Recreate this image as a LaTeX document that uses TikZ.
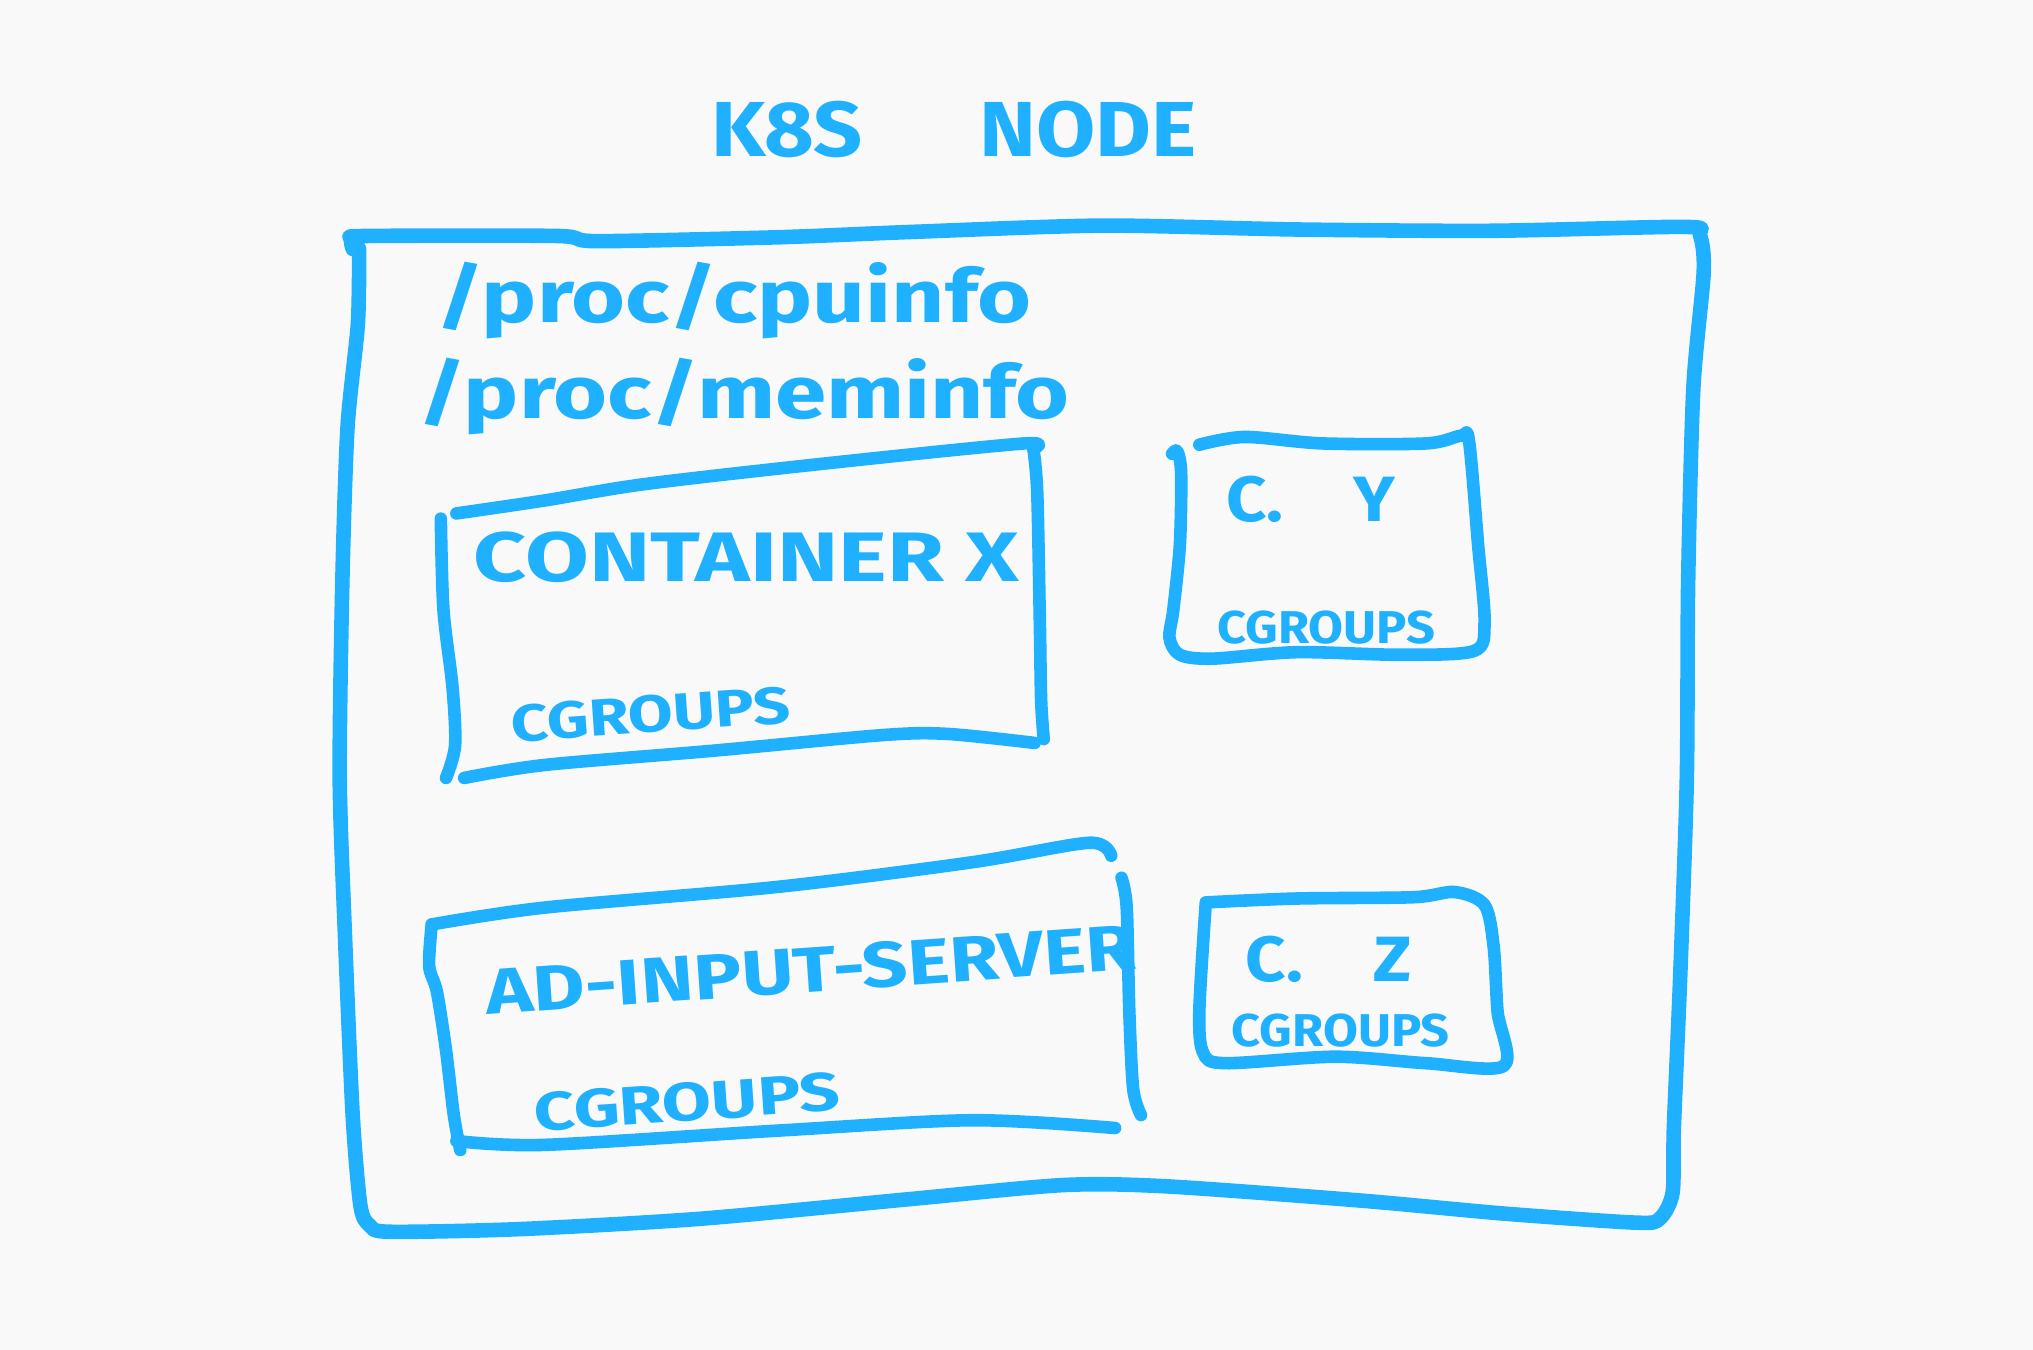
\documentclass[tikz,border=0pt]{standalone}
\usepackage{fontspec}
\setmainfont{Fira Sans}
\newfontfamily\handA{Fira Sans}[FakeStretch=1.1]
\newfontfamily\handB{Fira Sans}[FakeStretch=1.25]
\newfontfamily\handC{Fira Sans}[FakeStretch=1.32]
\definecolor{ink}{HTML}{1FB1FF}
\definecolor{paper}{HTML}{F9F9F9}
\tikzset{
  sketch/.style={draw=ink, line width=6.3pt, line cap=round, line join=round},
  outer/.style={draw=ink, line width=7.3pt, line cap=round, line join=round},
  hand/.style={text=ink, inner sep=0pt},
}
\begin{document}
\begin{tikzpicture}[x=0.6483pt, y=-0.6483pt]
\fill[paper] (0,0) rectangle (1568,1041);
\useasboundingbox (0,0) rectangle (1568,1041);

% title
\node[hand, font=\handA\fontsize{39}{44}\selectfont\bfseries] (title) at (736,100) {K8S\hspace{1.5em}NODE};

% outer box
\draw[outer] plot[smooth, tension=0.45] coordinates {
 (272,192) (271,184) (282,182) (430,182) (460,186) (600,183) (700,179) (850,174) (1000,177) (1150,178) (1300,175) (1311,181)
 (1314,210) (1306,300) (1302,450) (1301,600) (1296,750) (1291,870) (1290,920) (1280,940) (1262,943)
 (1160,936) (1050,926) (900,915) (820,914) (700,925) (540,940) (400,948) (300,950) (285,945) (278,930)
 (272,860) (266,720) (262,600) (264,450) (268,330) (276,250) (277,192)};

% /proc lines
\node[hand, font=\handB\fontsize{37}{40}\selectfont\bfseries] (cpu) at (566,232) {/proc/cpuinfo};
\node[hand, font=\handB\fontsize{37}{40}\selectfont\bfseries] (mem) at (574,306) {/proc/meminfo};

% container X box
\draw[sketch] plot[smooth, tension=0.5] coordinates {(352,396) (420,386) (500,373) (650,356) (790,342) (797,346)};
\draw[sketch] plot[smooth, tension=0.5] coordinates {(797,346) (800,380) (802,480) (803,540) (805,570)};
\draw[sketch] plot[smooth, tension=0.5] coordinates {(340,400) (342,470) (349,530) (351,575) (344,600)};
\draw[sketch] plot[smooth, tension=0.5] coordinates {(358,600) (420,590) (550,579) (680,567) (730,566) (798,573)};
\node[hand, font=\handC\fontsize{35}{38}\selectfont\bfseries] (cx) at (576,430) {CONTAINER X};
\node[hand, font=\handB\fontsize{26}{28}\selectfont\bfseries, rotate=4] (cgx) at (502,551) {CGROUPS};

% C. Y box
\draw[sketch] plot[smooth, tension=0.5] coordinates {(904,350) (908,348) (911,365) (910,420) (905,470) (902,492) (910,505) (935,508)
 (1000,503) (1080,505) (1137,502) (1145,480) (1140,420) (1133,340) (1127,336) (1100,342) (1020,342) (960,337) (925,343)};
\node[hand, font=\handA\fontsize{32}{34}\selectfont\bfseries] (cy) at (1011,385) {C.\hspace{1.1em}Y};
\node[hand, font=\handA\fontsize{23}{26}\selectfont\bfseries] (cgy) at (1023,484) {CGROUPS};

% AD-INPUT-SERVER box
\draw[sketch] plot[smooth, tension=0.5] coordinates {(333,713) (420,700) (600,684) (750,665) (840,650) (857,660)};
\draw[sketch] plot[smooth, tension=0.5] coordinates {(333,713) (331,745) (337,765) (344,810) (350,860) (355,887)};
\draw[sketch] plot[smooth, tension=0.5] coordinates {(865,677) (869,700) (871,780) (874,840) (880,860)};
\draw[sketch] plot[smooth, tension=0.5] coordinates {(352,880) (420,883) (600,872) (750,864) (860,870)};
\node[hand, font=\handB\fontsize{32}{36}\selectfont\bfseries, rotate=4] (ad) at (625,748) {AD-INPUT-SERVER};
\node[hand, font=\handC\fontsize{27}{30}\selectfont\bfseries, rotate=4] (cga) at (530,850) {CGROUPS};

% C. Z box
\draw[sketch] plot[smooth, tension=0.5] coordinates {(930,696) (1000,693) (1090,692) (1122,688) (1145,698) (1152,730) (1155,780) (1160,822)
 (1100,820) (1030,815) (945,820) (928,812) (925,780) (930,696)};
\node[hand, font=\handA\fontsize{32}{34}\selectfont\bfseries] (cz) at (1025,740) {C.\hspace{1.1em}Z};
\node[hand, font=\handA\fontsize{23}{26}\selectfont\bfseries] (cgz) at (1034,795) {CGROUPS};
\end{tikzpicture}
\end{document}
